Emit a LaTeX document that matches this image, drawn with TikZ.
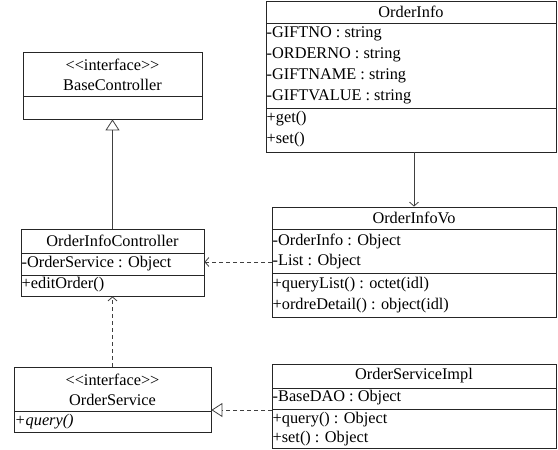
\documentclass[tikz,border=0pt]{standalone}
\usepackage{fontspec}
\setmainfont{Liberation Serif}
\usetikzlibrary{arrows.meta}

\tikzset{
  box/.style={draw=black!85, line width=0.8pt, inner sep=0pt},
  sep/.style={draw=black!85, line width=0.8pt},
  head/.style={inner sep=0pt, font=\fontsize{16.3}{19}\selectfont},
  row/.style={anchor=west, inner sep=0.5pt, font=\fontsize{16.3}{19}\selectfont},
  link/.style={draw=black!75, line width=0.8pt},
  assoc/.style={link, -{Straight Barb[length=4pt,width=9pt]}},
  dep/.style={link, dash pattern=on 4pt off 3pt, -{Straight Barb[length=4pt,width=9pt]}},
  gen/.style={link, -{Triangle[open,length=11pt,width=14pt]}},
  real/.style={link, dash pattern=on 4pt off 3pt, -{Triangle[open,length=11pt,width=14pt]}},
}

\begin{document}
\begin{tikzpicture}[x=1pt,y=-1pt]
\useasboundingbox (0,0) rectangle (558,450);
% class boxes, pixel coordinates with y going down
\node[box, minimum width=179pt, minimum height=67pt] (bc) at (112.5,85.5) {};
\node[box, minimum width=290pt, minimum height=151pt] (oi) at (411,76.5) {};
\node[box, minimum width=284pt, minimum height=110pt] (oiv) at (414,262) {};
\node[box, minimum width=183pt, minimum height=67pt] (oic) at (112.5,262.5) {};
\node[box, minimum width=197pt, minimum height=65pt] (os) at (112.5,399.5) {};
\node[box, minimum width=284pt, minimum height=84pt] (osi) at (414,406) {};

% compartments
\draw[sep] (23,96)--(202,96);
\draw[sep] (266,23)--(556,23);
\draw[sep] (266,108)--(556,108);
\draw[sep] (272,229)--(556,229);
\draw[sep] (272,273)--(556,273);
\draw[sep] (21,253)--(204,253);
\draw[sep] (21,275)--(204,275);
\draw[sep] (14,411)--(211,411);
\draw[sep] (272,388)--(556,388);
\draw[sep] (272,409)--(556,409);

% BaseController
\node[head] (bc0) at (112.5,65) {<\kern0pt<interface>\kern0pt>};
\node[head] (bc1) at (112.5,85) {BaseController};

% OrderInfo
\node[head] (oi0) at (411,12) {OrderInfo};
\node[row] (oi1) at (266,34) {-GIFTNO : string};
\node[row] (oi2) at (266,55) {-ORDERNO : string};
\node[row] (oi3) at (266,76) {-GIFTNAME : string};
\node[row] (oi4) at (266,97) {-GIFTVALUE : string};
\node[row] (oi5) at (266,119) {+get()};
\node[row] (oi6) at (266,140) {+set()};

% OrderInfoVo
\node[head] (oiv0) at (414,218) {OrderInfoVo};
\node[row] (oiv1) at (272,241) {-OrderInfo : Object};
\node[row] (oiv2) at (272,262) {-List : Object};
\node[row] (oiv3) at (272,285) {+queryList() : octet(idl)};
\node[row] (oiv4) at (272,306) {+ordreDetail() : object(idl)};

% OrderInfoController
\node[head] (oic0) at (112.5,241) {OrderInfoController};
\node[row] (oic1) at (21,264) {-OrderService : Object};
\node[row] (oic2) at (21,285) {+editOrder()};

% OrderService
\node[head] (os0) at (112.5,380) {<\kern0pt<interface>\kern0pt>};
\node[head] (os1) at (112.5,400) {OrderService};
\node[row] (os2) at (14,422) {\textit{+query()}};

% OrderServiceImpl
\node[head] (osi0) at (414,376) {OrderServiceImpl};
\node[row] (osi1) at (272,398) {-BaseDAO : Object};
\node[row] (osi2) at (272,420) {+query() : Object};
\node[row] (osi3) at (272,439) {+set() : Object};
\coordinate (osidiv) at (272,410);

% relations
\draw[gen] (oic.north) -- (bc.south);
\draw[assoc] (oiv.north |- oi.south) -- (oiv.north);
\draw[dep] (oiv2.west) -- (oic.east |- oiv2.west);
\draw[dep] (os.north) -- (oic.south);
\draw[real] (osidiv) -- (os.east |- osidiv);
\end{tikzpicture}
\end{document}
